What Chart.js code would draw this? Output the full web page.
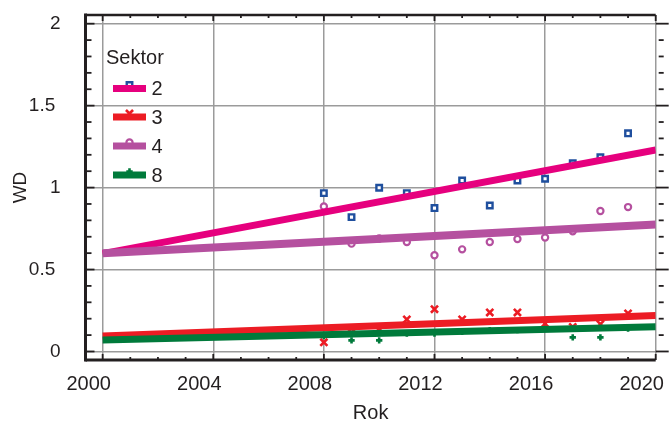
<!DOCTYPE html>
<html>
<head>
<meta charset="utf-8">
<script src="https://cdn.jsdelivr.net/npm/chart.js@4/dist/chart.umd.min.js"></script>
<style>
  html, body { margin: 0; padding: 0; background: #ffffff; }
  #wrap { width: 669px; height: 423px; }
</style>
</head>
<body>
<div id="wrap"><canvas id="chart" width="669" height="423"></canvas></div>
<script>
// Observed WD values per sector, 2008–2019
const years = [2008, 2009, 2010, 2011, 2012, 2013, 2014, 2015, 2016, 2017, 2018, 2019];
const sektor2 = [0.966, 0.820, 0.999, 0.966, 0.875, 1.043, 0.891, 1.043, 1.054, 1.148, 1.185, 1.331];
const sektor3 = [0.056, 0.140, 0.130, 0.196, 0.258, 0.196, 0.238, 0.238, 0.170, 0.150, 0.167, 0.232];
const sektor4 = [0.885, 0.658, 0.689, 0.668, 0.587, 0.623, 0.668, 0.686, 0.695, 0.733, 0.857, 0.881];
const sektor8 = [0.094, 0.068, 0.068, 0.110, 0.110, 0.120, 0.130, 0.130, 0.140, 0.086, 0.086, 0.140];

// Fitted trend lines (value at start year, value at end year)
const trendYears = [2000, 2020];
const trend2 = [0.597, 1.230];
const trend3 = [0.094, 0.220];
const trend4 = [0.600, 0.775];
const trend8 = [0.070, 0.151];

// Axis ticks and labels
const xTickValues = [2000, 2004, 2008, 2012, 2016, 2020];
const xTickLabels = ['2000', '2004', '2008', '2012', '2016', '2020'];
const yTickValues = [0, 0.5, 1, 1.5, 2];
const yTickLabels = ['0', '0.5', '1', '1.5', '2'];
const seriesNames = ['2', '3', '4', '8'];

const FONT = "'Liberation Sans', Arial, sans-serif";
const TEXT = '#231f20';
const INK = '#231f20';

const colors = {
  pink: '#e6007e',
  red: '#ec1c24',
  purple: '#b5509f',
  green: '#007a3b',
  blue: '#1f4f9e'
};

const pts = (xs, ys) => xs.map((x, i) => ({ x: x, y: ys[i] }));

// Marker style per sector
const markers = [
  { pointStyle: 'rect', radius: 3.9, border: colors.blue, fill: '#ffffff', width: 2.4 },
  { pointStyle: 'crossRot', radius: 5, border: colors.red, fill: colors.red, width: 2.6 },
  { pointStyle: 'circle', radius: 3.1, border: colors.purple, fill: '#ffffff', width: 2.2 },
  { pointStyle: 'cross', radius: 3.2, border: colors.green, fill: colors.green, width: 2.6 }
];
const lineColors = [colors.pink, colors.red, colors.purple, colors.green];
const lineWidths = [7, 7, 8, 7];
const seriesValues = [sektor2, sektor3, sektor4, sektor8];
const trendValues = [trend2, trend3, trend4, trend8];

const datasets = [];
seriesValues.forEach((vals, i) => {
  const m = markers[i];
  datasets.push({
    label: 'Sektor ' + seriesNames[i],
    data: pts(years, vals),
    showLine: false,
    pointStyle: m.pointStyle,
    pointRadius: m.radius,
    pointBorderColor: m.border,
    pointBackgroundColor: m.fill,
    pointBorderWidth: m.width,
    order: 10
  });
});
trendValues.forEach((vals, i) => {
  datasets.push({
    label: 'Trend ' + seriesNames[i],
    data: pts(trendYears, vals),
    showLine: true,
    borderColor: lineColors[i],
    borderWidth: lineWidths[i],
    borderCapStyle: 'butt',
    pointRadius: 0,
    order: 4 - i
  });
});

// Frame, minor ticks and the in-plot legend
const framePlugin = {
  id: 'frame',
  afterDraw(chart) {
    const { ctx, chartArea: a, scales: { x, y } } = chart;
    const seg = (x1, y1, x2, y2) => { ctx.beginPath(); ctx.moveTo(x1, y1); ctx.lineTo(x2, y2); ctx.stroke(); };
    ctx.save();
    ctx.strokeStyle = INK;
    ctx.lineWidth = 1.8;
    for (let yr = 2000; yr <= 2020; yr++) {
      const px = x.getPixelForValue(yr);
      const len = yr % 4 === 0 ? 6 : 3;
      seg(px, a.bottom, px, a.bottom - len);
      seg(px, a.top, px, a.top + len);
    }
    for (let i = 0; i <= 20; i++) {
      const py = y.getPixelForValue(i / 10);
      const major = i % 5 === 0;
      seg(a.left, py, a.left + (major ? 9 : 6), py);
      seg(a.right + (major ? 0 : 3), py, a.right + (major ? 13 : 8), py);
    }
    ctx.lineWidth = 3;
    seg(a.left, a.top - 1.5, a.left, a.bottom + 1.5);
    seg(a.left, a.bottom, a.right, a.bottom);
    ctx.lineWidth = 2.5;
    seg(a.left, a.top, a.right, a.top);

    // legend: marker tucked under a short line sample, then the sector name
    ctx.fillStyle = TEXT;
    ctx.textBaseline = 'alphabetic';
    ctx.textAlign = 'left';
    ctx.font = '20px ' + FONT;
    ctx.fillText('Sektor', 106, 64);
    const rowY = [88.5, 117, 146, 175];
    seriesNames.forEach((name, i) => {
      const cy = rowY[i];
      const m = markers[i];
      ctx.save();
      ctx.strokeStyle = m.border; ctx.fillStyle = m.fill; ctx.lineWidth = m.width;
      Chart.helpers.drawPoint(ctx, { pointStyle: m.pointStyle, radius: m.radius, borderWidth: m.width, rotation: 0 }, 129.5, cy - 3.5);
      ctx.restore();
      ctx.save();
      ctx.strokeStyle = lineColors[i];
      ctx.lineWidth = 7;
      seg(113, cy, 146, cy);
      ctx.restore();
      ctx.fillStyle = TEXT;
      ctx.font = '20px ' + FONT;
      ctx.fillText(name, 151.5, cy + 6.7);
    });
    ctx.restore();
  }
};

new Chart(document.getElementById('chart'), {
  type: 'scatter',
  data: { datasets: datasets },
  plugins: [framePlugin],
  options: {
    responsive: false,
    devicePixelRatio: 1,
    animation: false,
    layout: { padding: { top: 15, right: 13.3, left: 0, bottom: 0 } },
    plugins: { legend: { display: false }, tooltip: { enabled: false } },
    scales: {
      x: {
        type: 'linear',
        min: 1999.38,
        max: 2020,
        afterBuildTicks: (s) => { s.ticks = xTickValues.map(v => ({ value: v })); },
        afterFit: (s) => { s.height = 63; s.paddingLeft = 0; s.paddingRight = 0; },
        grid: { color: '#9b9b9b', lineWidth: 1.5, drawTicks: false },
        border: { display: false },
        ticks: {
          autoSkip: false, maxRotation: 0, padding: 12, labelOffset: -14,
          color: TEXT, font: { family: FONT, size: 20 },
          callback: (v, i) => xTickLabels[i]
        },
        title: {
          display: true, text: 'Rok', color: TEXT,
          font: { family: FONT, size: 20 }, padding: { top: 0, bottom: -2 }
        }
      },
      y: {
        type: 'linear',
        min: -0.052,
        max: 2.053,
        afterBuildTicks: (s) => { s.ticks = yTickValues.map(v => ({ value: v })); },
        afterFit: (s) => { s.width = 85.5; s.paddingTop = 0; s.paddingBottom = 0; },
        grid: { color: '#9b9b9b', lineWidth: 1.5, drawTicks: false },
        border: { display: false },
        ticks: {
          autoSkip: false, padding: 25,
          color: TEXT, font: { family: FONT, size: 19 },
          callback: (v, i) => yTickLabels[i].indexOf('.') >= 0 ? yTickLabels[i] + ' ' : yTickLabels[i]
        },
        title: {
          display: true, text: 'WD', color: TEXT,
          font: { family: FONT, size: 19 }, padding: { top: 9, bottom: 0 }
        }
      }
    }
  }
});
</script>
</body>
</html>
